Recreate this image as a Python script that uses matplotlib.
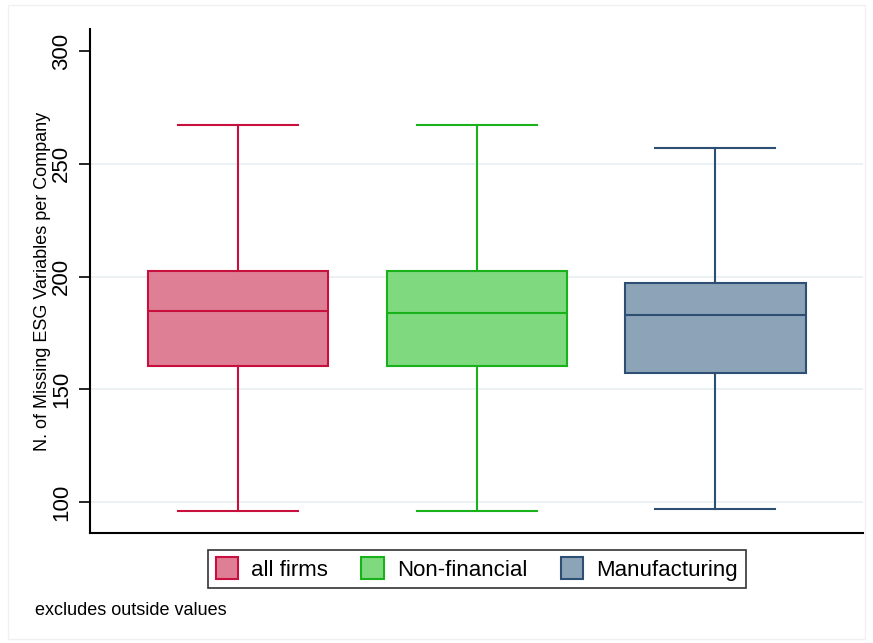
import matplotlib.pyplot as plt
from matplotlib.patches import Patch, Rectangle

plt.rcParams["font.family"] = ["Liberation Sans", "DejaVu Sans"]

# box stats
groups = ["all firms", "Non-financial", "Manufacturing"]
whislo = [96, 96, 97]
q1 = [160.3, 160.3, 157.2]
med = [184.7, 183.8, 183.0]
q3 = [202.4, 202.4, 197.1]
whishi = [267, 267, 257]

fills = ["#df7f96", "#7fd97f", "#8da3b7"]
edges = ["#c8103e", "#1ab21a", "#2c4f73"]
yticks = [100, 150, 200, 250, 300]

fig = plt.figure(figsize=(8.73, 6.43), dpi=100)
fig.patches.append(Rectangle((0.009, 0.006), 0.982, 0.986, transform=fig.transFigure,
                             fill=False, edgecolor="#f0f0f0", linewidth=1))
ax = fig.add_axes([0.103, 0.171, 0.886, 0.784])

for y in yticks[:-1]:
    ax.axhline(y, color="#e9f0f2", linewidth=1.2, zorder=0)

for i, g in enumerate(groups):
    stats = [dict(label=g, whislo=whislo[i], q1=q1[i], med=med[i], q3=q3[i], whishi=whishi[i])]
    ax.bxp(stats, positions=[i + 1], widths=0.755, patch_artist=True, showfliers=False,
           boxprops=dict(facecolor=fills[i], edgecolor=edges[i], linewidth=1.5),
           medianprops=dict(color=edges[i], linewidth=1.5),
           whiskerprops=dict(color=edges[i], linewidth=1.5),
           capprops=dict(color=edges[i], linewidth=1.5), capwidths=0.503)

ax.set_xlim(0.379, 3.62)
ax.set_ylim(86.3, 309.8)
ax.set_xticks([])
ax.set_yticks(yticks)
ax.set_yticklabels([str(t) for t in yticks], rotation=90, va="center", fontsize=16)
ax.tick_params(axis="y", length=8, width=1.2, pad=5)
for s in ["top", "right"]:
    ax.spines[s].set_visible(False)
for s in ["left", "bottom"]:
    ax.spines[s].set_linewidth(1.5)
ax.set_ylabel("N. of Missing ESG Variables per Company", fontsize=13, labelpad=0)

handles = [Patch(facecolor=fills[i], edgecolor=edges[i], linewidth=1.5) for i in range(3)]
leg = fig.legend(handles, groups, loc="center", bbox_to_anchor=(0.546, 0.115), ncol=3,
                 fontsize=16, frameon=True, fancybox=False, edgecolor="black",
                 handlelength=1.0, handleheight=1.1, columnspacing=1.5, handletextpad=0.6,
                 borderpad=0.35)
leg.get_frame().set_linewidth(1.2)

fig.text(0.04, 0.051, "excludes outside values", fontsize=13, va="center")

fig.savefig("out.png", dpi=100)
